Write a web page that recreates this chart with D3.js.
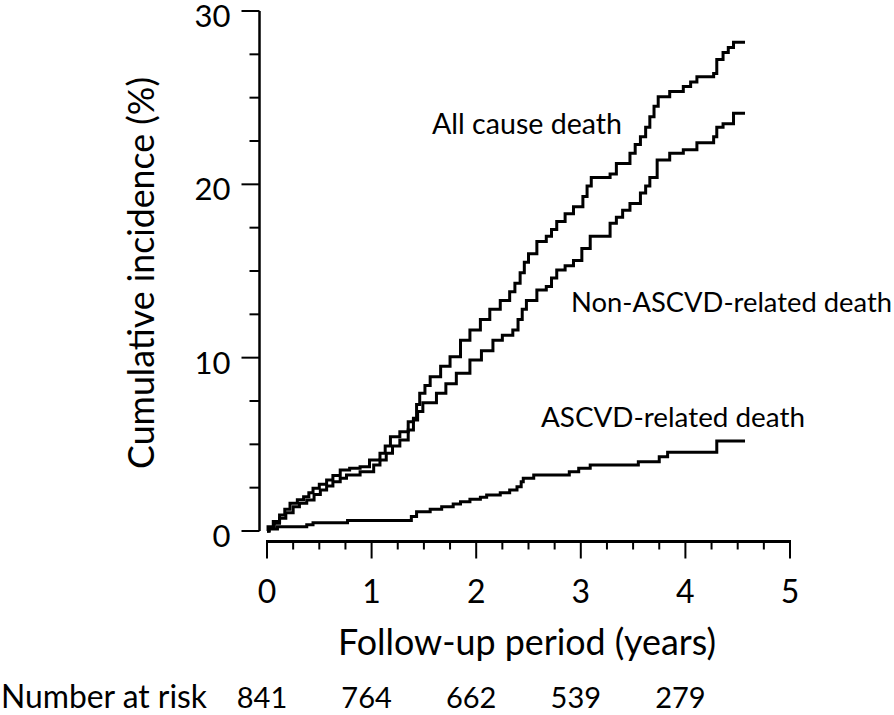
<!DOCTYPE html>
<html>
<head>
<meta charset="utf-8">
<script src="https://cdn.jsdelivr.net/npm/d3@7"></script>
<style>
  html, body { margin: 0; padding: 0; background: #fff; }
  svg text { font-family: Lato, "Noto Sans", sans-serif; fill: #000; }
</style>
</head>
<body>
<svg id="chart" width="894" height="715"></svg>
<script>
// ---- data ----
const allCauseT = [0,0.01,0.06,0.12,0.17,0.22,0.29,0.35,0.40,0.44,0.50,0.57,0.63,0.70,0.79,0.89,0.98,1.08,1.13,1.18,1.27,1.35,1.40,1.43,1.46,1.51,1.56,1.66,1.75,1.85,1.94,2.04,2.13,2.23,2.32,2.37,2.42,2.46,2.50,2.58,2.67,2.72,2.77,2.85,2.93,3.02,3.06,3.10,3.28,3.34,3.47,3.52,3.57,3.62,3.66,3.70,3.74,3.85,3.98,4.05,4.11,4.27,4.30,4.36,4.41,4.46,4.57];
const allCauseV = [0,0.25,0.55,0.92,1.25,1.6,1.8,1.98,2.2,2.46,2.7,2.94,3.2,3.52,3.62,3.71,4.1,4.48,4.9,5.44,5.73,6.3,6.5,7.3,7.94,8.4,8.9,9.5,10.06,11.0,11.6,12.2,12.8,13.3,13.8,14.3,14.9,15.5,16.0,16.7,17.0,17.4,17.85,18.3,18.7,19.3,19.9,20.4,20.6,21.2,21.8,22.3,22.75,23.3,23.9,24.5,25.06,25.35,25.64,25.9,26.2,26.4,27.2,27.6,27.9,28.2,28.2];

const nonAscvdT = [0,0.02,0.07,0.12,0.18,0.25,0.31,0.38,0.45,0.51,0.57,0.63,0.70,0.76,0.89,1.02,1.08,1.14,1.20,1.27,1.35,1.40,1.44,1.49,1.62,1.71,1.81,1.94,2.05,2.16,2.25,2.35,2.40,2.44,2.48,2.58,2.67,2.72,2.77,2.85,2.93,3.01,3.09,3.28,3.34,3.40,3.47,3.57,3.62,3.66,3.73,3.85,3.98,4.11,4.27,4.30,4.36,4.46,4.57];
const nonAscvdV = [0,0.2,0.45,0.73,1.05,1.4,1.6,1.79,2.1,2.37,2.6,2.84,3.05,3.23,3.42,3.81,4.1,4.48,4.9,5.25,5.83,6.4,6.9,7.4,7.94,8.5,9.1,9.87,10.4,11.0,11.3,11.6,12.2,12.8,13.3,13.9,14.1,14.6,15.06,15.3,15.6,16.3,17.0,17.75,18.1,18.5,18.9,19.5,19.9,20.4,21.4,21.8,22.0,22.4,22.75,23.3,23.5,24.1,24.1];

const ascvdT = [0,0.02,0.10,0.38,0.44,0.77,1.34,1.38,1.43,1.56,1.67,1.78,1.85,1.94,2.04,2.10,2.23,2.32,2.39,2.43,2.45,2.55,2.89,2.98,3.09,3.55,3.75,3.83,4.30,4.57];
const ascvdV = [0,0.12,0.24,0.36,0.48,0.6,0.6,0.84,1.11,1.25,1.40,1.56,1.69,1.83,1.94,2.08,2.21,2.37,2.56,2.84,3.04,3.23,3.42,3.62,3.81,4.0,4.29,4.54,5.19,5.19];

const seriesNames = ["All cause death", "Non-ASCVD-related death", "ASCVD-related death"];
const xTicks = [0, 1, 2, 3, 4, 5];
const yTicks = [0, 10, 20, 30];
const riskTimes = [0, 1, 2, 3, 4];
const riskCounts = [841, 764, 662, 539, 279];
const xTitle = "Follow-up period (years)";
const yTitle = "Cumulative incidence (%)";
const riskTitle = "Number at risk";

// ---- layout ----
const svg = d3.select("#chart");
const x = d3.scaleLinear().domain([0, 5]).range([267, 790]);
const y = d3.scaleLinear().domain([0, 30]).range([531, 11]);
const yAxisX = 259.5;
const xAxisY = 541.5;

// scale a text's font size so that it spans the given width
function fitWidth(sel, target) {
  sel.each(function () {
    const node = this;
    const fs = parseFloat(node.getAttribute("font-size"));
    const w = node.getComputedTextLength();
    if (w > 0) node.setAttribute("font-size", (fs * target / w).toFixed(2));
  });
}

// y axis
const gy = svg.append("g").attr("transform", `translate(${yAxisX},0)`);
gy.append("line").attr("x1", 0).attr("x2", 0).attr("y1", y(0)).attr("y2", y(30))
  .attr("stroke", "#000").attr("stroke-width", 2.5);
d3.range(0, 30.01, 2.5).forEach(v => {
  const major = v % 10 === 0;
  gy.append("line").attr("x1", major ? -18 : -10).attr("x2", 0)
    .attr("y1", y(v)).attr("y2", y(v)).attr("stroke", "#000").attr("stroke-width", 2);
});
gy.selectAll("text.yt").data(yTicks).join("text")
  .attr("class", "yt")
  .attr("x", -29).attr("y", d => y(d) + 4)
  .attr("text-anchor", "end").attr("dominant-baseline", "central")
  .attr("font-size", 31).text(d => d);

// x axis
const gx = svg.append("g").attr("transform", `translate(0,${xAxisY})`);
gx.append("line").attr("x1", x(0) - 1).attr("x2", x(5) + 1).attr("y1", 0).attr("y2", 0)
  .attr("stroke", "#000").attr("stroke-width", 3);
d3.range(0, 5.001, 0.25).forEach(t => {
  const major = Math.abs(t - Math.round(t)) < 1e-6;
  gx.append("line").attr("x1", x(t)).attr("x2", x(t))
    .attr("y1", 0).attr("y2", major ? 17 : 8)
    .attr("stroke", "#000").attr("stroke-width", 2);
});
gx.selectAll("text.xt").data(xTicks).join("text")
  .attr("class", "xt")
  .attr("x", d => x(d)).attr("y", 49)
  .attr("text-anchor", "middle").attr("dominant-baseline", "central")
  .attr("font-size", 32).text(d => d);

// titles
svg.append("text").attr("transform", "translate(140,273) rotate(-90)")
  .attr("text-anchor", "middle").attr("dominant-baseline", "central")
  .attr("font-size", 31).text(yTitle).call(fitWidth, 392);
svg.append("text").attr("x", 527).attr("y", 641)
  .attr("text-anchor", "middle").attr("dominant-baseline", "central")
  .attr("font-size", 31).text(xTitle).call(fitWidth, 378);

// curves
const line = d3.line().x(d => x(d[0])).y(d => y(d[1])).curve(d3.curveStepAfter);
const series = [
  d3.zip(allCauseT, allCauseV),
  d3.zip(nonAscvdT, nonAscvdV),
  d3.zip(ascvdT, ascvdV)
];
svg.selectAll("path.km").data(series).join("path")
  .attr("class", "km")
  .attr("d", line)
  .attr("fill", "none").attr("stroke", "#000").attr("stroke-width", 3)
  .attr("stroke-linejoin", "miter");

// series labels
const labelPos = [[432, 123], [571, 301], [541, 416]];
const labelW = [190, 321, 264];
svg.selectAll("text.lab").data(seriesNames).join("text")
  .attr("class", "lab")
  .attr("x", (d, i) => labelPos[i][0]).attr("y", (d, i) => labelPos[i][1])
  .attr("dominant-baseline", "central")
  .attr("font-size", 26).text(d => d)
  .each(function (d, i) { fitWidth(d3.select(this), labelW[i]); });

// number at risk
svg.append("text").attr("x", 1).attr("y", 696)
  .attr("dominant-baseline", "central").attr("font-size", 29).text(riskTitle)
  .call(fitWidth, 206);
svg.selectAll("text.risk").data(riskCounts).join("text")
  .attr("class", "risk")
  .attr("x", (d, i) => x(riskTimes[i]) - 5).attr("y", 696)
  .attr("text-anchor", "middle").attr("dominant-baseline", "central")
  .attr("font-size", 29).text(d => d);
</script>
</body>
</html>
